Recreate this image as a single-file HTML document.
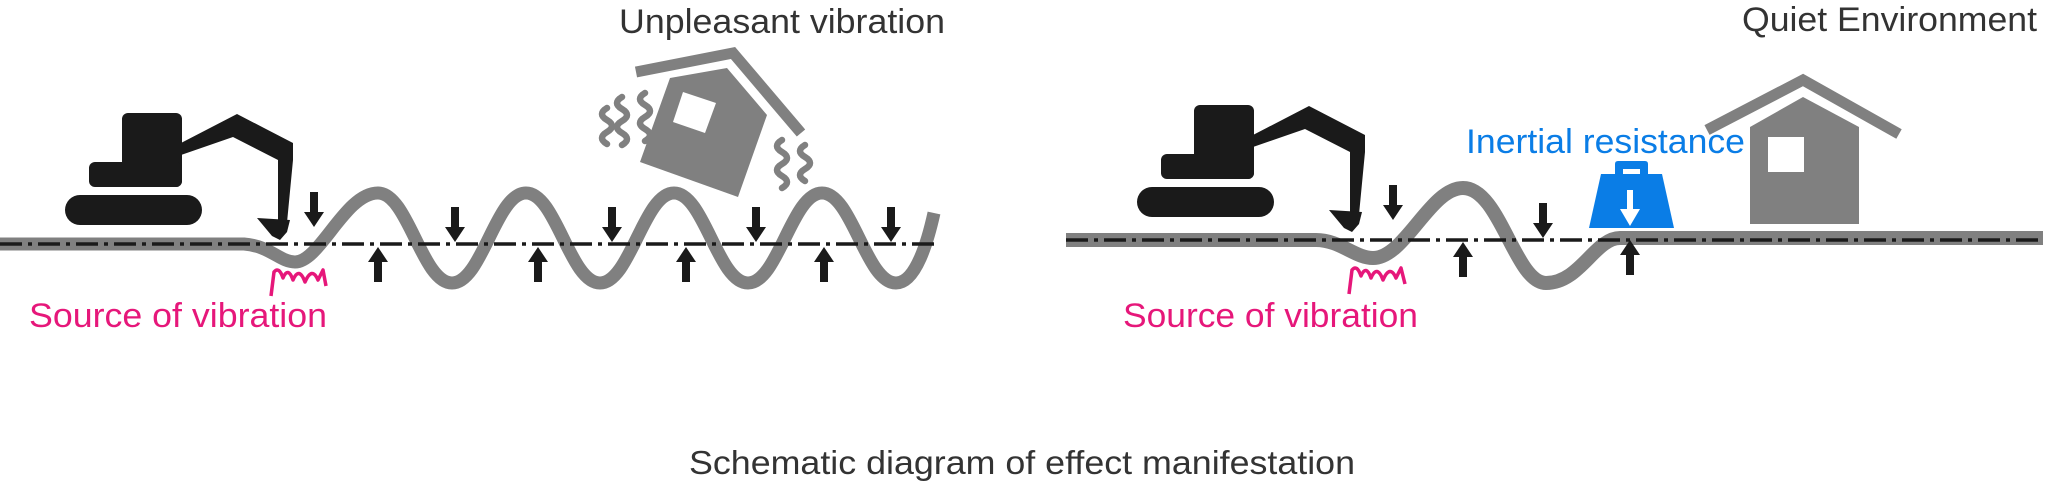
<!DOCTYPE html>
<html><head><meta charset="utf-8"><style>html,body{margin:0;padding:0;background:#fff}svg{display:block}</style></head>
<body>
<svg width="2046" height="486" viewBox="0 0 2046 486" xmlns="http://www.w3.org/2000/svg" font-family="Liberation Sans, sans-serif">
<defs>
<path id="da" d="M-4,-35 H4 V-15 H10 L0,0 L-10,-15 H-4 Z" fill="#1a1a1a"/>
<path id="ua" d="M-4,35 H4 V15 H10 L0,0 L-10,15 H-4 Z" fill="#1a1a1a"/>
<g id="exc" fill="#1a1a1a">
<rect x="122" y="113" width="60" height="74" rx="6"/>
<rect x="89" y="162" width="93" height="25" rx="6"/>
<rect x="65" y="195" width="137" height="30" rx="15"/>
<polygon points="181,143 237,114 293,143 293,160 286,233 278,233 278,160 233,137 181,155"/>
<polygon points="257,218 290,220 287,232 280,240 272,236"/>
</g>
</defs>

<!-- LEFT PANEL -->
<path d="M0,244 L244,244 C270,246 280,262 295,262 C320,262 345,193 378,193 C408,193 422,283 452,283 C482,283 496,193 526,193 C556,193 570,283 600,283 C630,283 644,193 674,193 C704,193 718,283 748,283 C778,283 792,193 822,193 C852,193 866,283 896,283 C916,283 928,240 934,213" fill="none" stroke="#808080" stroke-width="13"/>
<line x1="0" y1="244" x2="936" y2="244" stroke="#1a1a1a" stroke-width="3.5" stroke-dasharray="22 6 4 6"/>
<use href="#exc"/>
<use href="#da" x="314" y="227"/><use href="#da" x="455" y="242"/><use href="#da" x="612" y="242"/><use href="#da" x="756" y="242"/><use href="#da" x="891" y="242"/>
<use href="#ua" x="378" y="247"/><use href="#ua" x="538" y="247"/><use href="#ua" x="686" y="247"/><use href="#ua" x="824" y="247"/>
<path d="M271,296 L274,272 Q279,266 283,278 Q288,266 293,280 Q299,266 305,282 Q312,266 318,280 L323,270 L326,286" fill="none" stroke="#e6177a" stroke-width="3.5" stroke-linejoin="round"/>
<text x="29" y="327" font-size="34" fill="#e6177a" textLength="298" lengthAdjust="spacingAndGlyphs">Source of vibration</text>
<text x="619" y="33" font-size="34" fill="#333" textLength="326" lengthAdjust="spacingAndGlyphs">Unpleasant vibration</text>
<!-- tilted house -->
<polyline points="636,72 733,53 801,133" fill="none" stroke="#808080" stroke-width="11"/>
<polygon points="670,78 727,68 767,115 738,197 640,162" fill="#808080"/>
<polygon points="683,92 716,103 705,133 673,122" fill="#fff"/>
<g fill="none" stroke="#808080" stroke-width="6.5" stroke-linecap="round">
<path d="M622,97 q-10,6 0,12 q10,6 0,12 q-10,6 0,12 q10,6 0,12"/>
<path d="M607,108 q-10,6 0,12 q10,6 0,12 q-10,6 0,12"/>
<path d="M645,93 q-10,6 0,12 q10,6 0,12 q-10,6 0,12 q10,6 0,12"/>
<path d="M782,140 q-10,6 0,12 q10,6 0,12 q-10,6 0,12 q10,6 0,12"/>
<path d="M805,145 q-10,6 0,12 q10,6 0,12 q-10,6 0,12"/>
</g>

<!-- RIGHT PANEL -->
<path d="M1066,240 L1316,240 C1340,240 1355,258 1373,258 C1405,258 1430,188 1463,188 C1500,188 1515,283 1546,283 C1580,283 1595,238 1620,238 L2043,238" fill="none" stroke="#808080" stroke-width="14"/>
<line x1="1066" y1="240" x2="2043" y2="240" stroke="#1a1a1a" stroke-width="3.5" stroke-dasharray="22 6 4 6"/>
<use href="#exc" transform="translate(1072,-8)"/>
<use href="#da" x="1393" y="220"/><use href="#da" x="1543" y="238"/>
<use href="#ua" x="1463" y="242"/><use href="#ua" x="1630" y="240"/>
<path d="M1349,294 L1352,270 Q1357,264 1361,276 Q1366,264 1371,278 Q1377,264 1383,280 Q1390,264 1396,278 L1401,268 L1405,284" fill="none" stroke="#e6177a" stroke-width="3.5" stroke-linejoin="round"/>
<text x="1123" y="327" font-size="34" fill="#e6177a" textLength="295" lengthAdjust="spacingAndGlyphs">Source of vibration</text>
<text x="1466" y="153" font-size="34" fill="#0a7de6" textLength="279" lengthAdjust="spacingAndGlyphs">Inertial resistance</text>
<text x="1742" y="31" font-size="34" fill="#333" textLength="295" lengthAdjust="spacingAndGlyphs">Quiet Environment</text>
<!-- weight -->
<path d="M1615,175 V164 Q1615,161 1618,161 H1645 Q1648,161 1648,164 V175 H1640 V169 H1623 V175 Z" fill="#0a7de6"/>
<polygon points="1601,174 1662,174 1674,228 1589,228" fill="#0a7de6"/>
<polygon points="1627,190 1633,190 1633,209 1640,209 1630,226 1620,209 1627,209" fill="#fff"/>
<!-- house -->
<polyline points="1707,130 1803,80 1899,134" fill="none" stroke="#808080" stroke-width="11"/>
<polygon points="1803,97 1859,127 1859,224 1750,224 1750,127" fill="#808080"/>
<rect x="1768" y="137" width="36" height="35" fill="#fff"/>

<text x="689" y="474" font-size="33" fill="#333" textLength="666" lengthAdjust="spacingAndGlyphs">Schematic diagram of effect manifestation</text>
</svg>
</body></html>
